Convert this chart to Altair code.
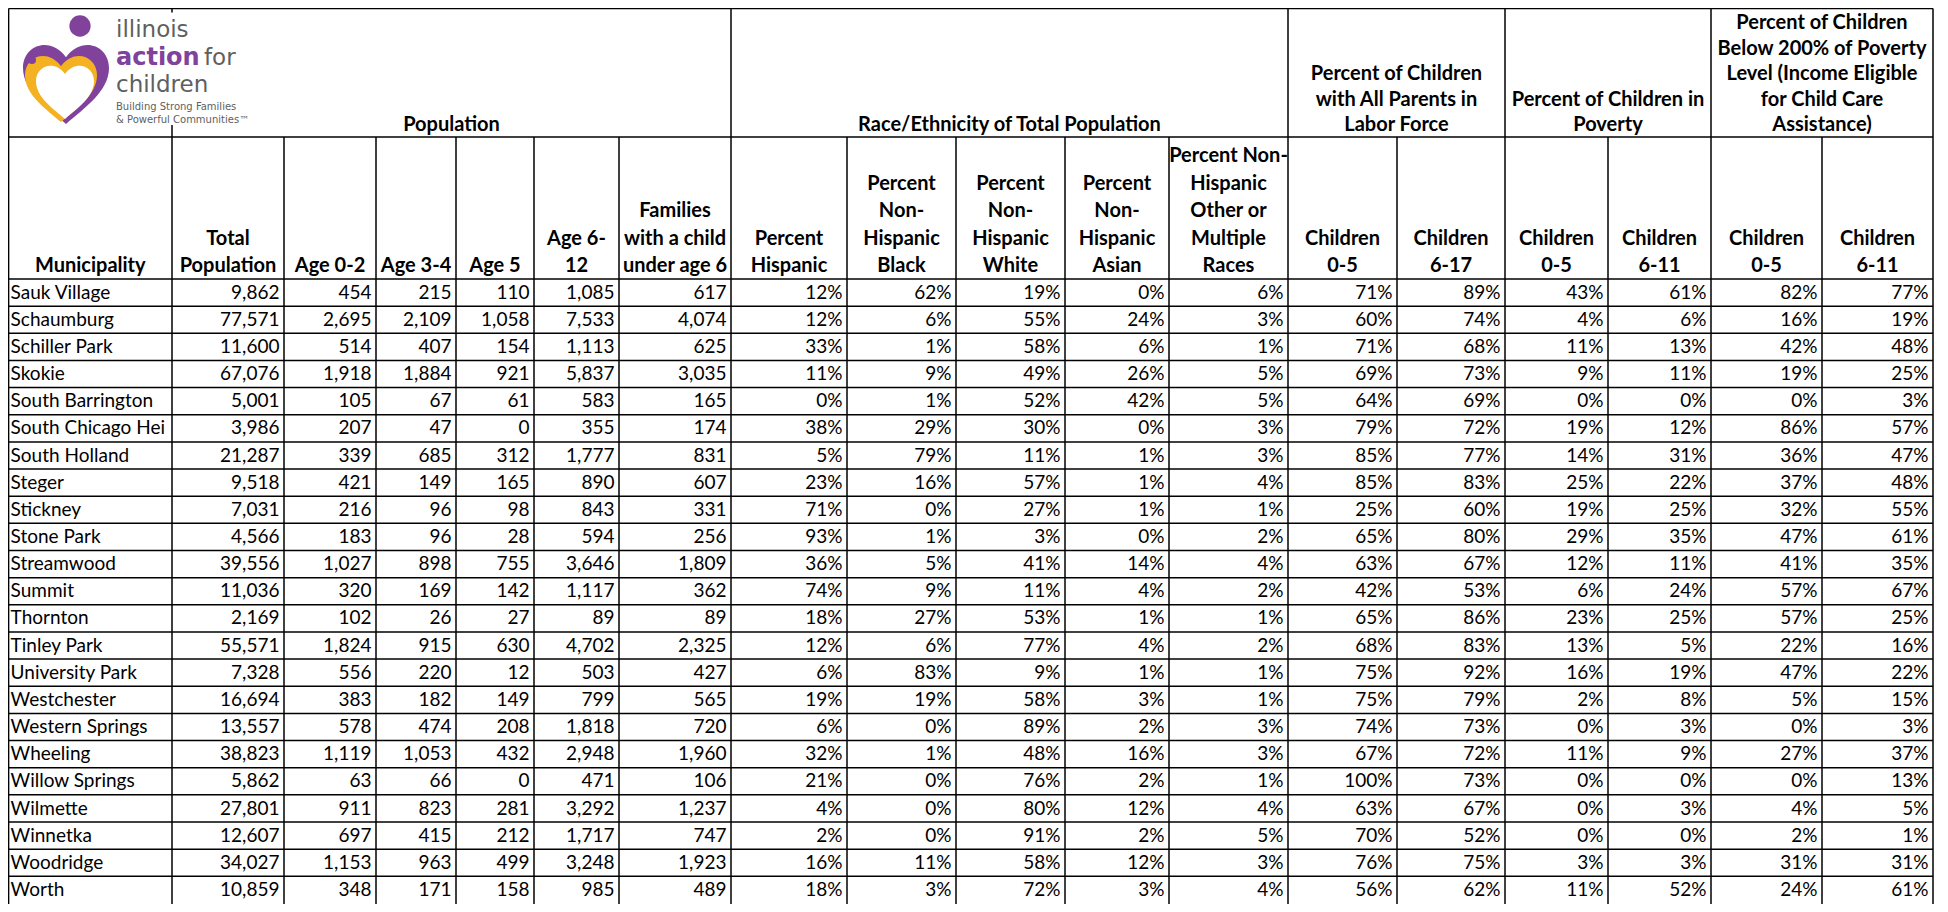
import altair as alt
import pandas as pd

# ---------------- data ----------------
municipalities = ["Sauk Village", "Schaumburg", "Schiller Park", "Skokie", "South Barrington",
                  "South Chicago Heights", "South Holland", "Steger", "Stickney", "Stone Park",
                  "Streamwood", "Summit", "Thornton", "Tinley Park", "University Park",
                  "Westchester", "Western Springs", "Wheeling", "Willow Springs", "Wilmette",
                  "Winnetka", "Woodridge", "Worth"]
total_population = [9862, 77571, 11600, 67076, 5001, 3986, 21287, 9518, 7031, 4566, 39556, 11036,
                    2169, 55571, 7328, 16694, 13557, 38823, 5862, 27801, 12607, 34027, 10859]
age_0_2 = [454, 2695, 514, 1918, 105, 207, 339, 421, 216, 183, 1027, 320, 102, 1824, 556, 383,
           578, 1119, 63, 911, 697, 1153, 348]
age_3_4 = [215, 2109, 407, 1884, 67, 47, 685, 149, 96, 96, 898, 169, 26, 915, 220, 182, 474,
           1053, 66, 823, 415, 963, 171]
age_5 = [110, 1058, 154, 921, 61, 0, 312, 165, 98, 28, 755, 142, 27, 630, 12, 149, 208, 432, 0,
         281, 212, 499, 158]
age_6_12 = [1085, 7533, 1113, 5837, 583, 355, 1777, 890, 843, 594, 3646, 1117, 89, 4702, 503,
            799, 1818, 2948, 471, 3292, 1717, 3248, 985]
families_child_under_6 = [617, 4074, 625, 3035, 165, 174, 831, 607, 331, 256, 1809, 362, 89,
                          2325, 427, 565, 720, 1960, 106, 1237, 747, 1923, 489]
pct_hispanic = [12, 12, 33, 11, 0, 38, 5, 23, 71, 93, 36, 74, 18, 12, 6, 19, 6, 32, 21, 4, 2, 16, 18]
pct_nh_black = [62, 6, 1, 9, 1, 29, 79, 16, 0, 1, 5, 9, 27, 6, 83, 19, 0, 1, 0, 0, 0, 11, 3]
pct_nh_white = [19, 55, 58, 49, 52, 30, 11, 57, 27, 3, 41, 11, 53, 77, 9, 58, 89, 48, 76, 80, 91, 58, 72]
pct_nh_asian = [0, 24, 6, 26, 42, 0, 1, 1, 1, 0, 14, 4, 1, 4, 1, 3, 2, 16, 2, 12, 2, 12, 3]
pct_nh_other = [6, 3, 1, 5, 5, 3, 3, 4, 1, 2, 4, 2, 1, 2, 1, 1, 3, 3, 1, 4, 5, 3, 4]
labor_0_5 = [71, 60, 71, 69, 64, 79, 85, 85, 25, 65, 63, 42, 65, 68, 75, 75, 74, 67, 100, 63, 70, 76, 56]
labor_6_17 = [89, 74, 68, 73, 69, 72, 77, 83, 60, 80, 67, 53, 86, 83, 92, 79, 73, 72, 73, 67, 52, 75, 62]
poverty_0_5 = [43, 4, 11, 9, 0, 19, 14, 25, 19, 29, 12, 6, 23, 13, 16, 2, 0, 11, 0, 0, 0, 3, 11]
poverty_6_11 = [61, 6, 13, 11, 0, 12, 31, 22, 25, 35, 11, 24, 25, 5, 19, 8, 3, 9, 0, 3, 0, 3, 52]
below200_0_5 = [82, 16, 42, 19, 0, 86, 36, 37, 32, 47, 41, 57, 57, 22, 47, 5, 0, 27, 0, 4, 2, 31, 24]
below200_6_11 = [77, 19, 48, 25, 3, 57, 47, 48, 55, 61, 35, 67, 25, 16, 22, 15, 3, 37, 13, 5, 1, 31, 61]

count_columns = [total_population, age_0_2, age_3_4, age_5, age_6_12, families_child_under_6]
pct_columns = [pct_hispanic, pct_nh_black, pct_nh_white, pct_nh_asian, pct_nh_other,
               labor_0_5, labor_6_17, poverty_0_5, poverty_6_11, below200_0_5, below200_6_11]

column_headers = ["Municipality", "Total\nPopulation", "Age 0-2", "Age 3-4", "Age 5", "Age 6-\n12",
                  "Families\nwith a child\nunder age 6", "Percent\nHispanic",
                  "Percent\nNon-\nHispanic\nBlack", "Percent\nNon-\nHispanic\nWhite",
                  "Percent\nNon-\nHispanic\nAsian", "Percent Non-\nHispanic\nOther or\nMultiple\nRaces",
                  "Children\n0-5", "Children\n6-17", "Children\n0-5", "Children\n6-11",
                  "Children\n0-5", "Children\n6-11"]
group_headers = ["Population", "Race/Ethnicity of Total Population",
                 "Percent of Children\nwith All Parents in\nLabor Force",
                 "Percent of Children in\nPoverty",
                 "Percent of Children\nBelow 200% of Poverty\nLevel (Income Eligible\nfor Child Care\nAssistance)"]
group_edges = [(1, 7), (7, 12), (12, 14), (14, 16), (16, 18)]

logo_big_words = ["illinois", "children"]
logo_for = "for"
logo_accent = "action"
logo_small_words = ["Building Strong Families", "& Powerful Communities\u2122"]

# ---------------- layout (page pixels) ----------------
OX, OY = 8, 8
W, H = 1926, 896
edges = [8.6, 172, 284, 376, 456, 534, 619, 731, 847, 956, 1065, 1169, 1288, 1397, 1505,
         1608, 1711, 1822, 1933]
TOP, HDR1, HDR2, ROW_H = 8.6, 137, 279, 27.15
BOTTOM = OY + H
FULL = {0, 7, 12, 14, 16, 18}
DATA_FS, HEAD_FS = 19, 20

xs = alt.Scale(domain=[0, W], nice=False, zero=False)
ys = alt.Scale(domain=[0, H], nice=False, zero=False, reverse=True)


def enc(chart, text=True):
    e = dict(x=alt.X("x:Q", scale=xs, axis=None), y=alt.Y("y:Q", scale=ys, axis=None))
    if text:
        e["text"] = alt.Text("label:N")
    return chart.encode(**e)


# grid lines
lines = []


def seg(x1, y1, x2, y2):
    lines.append({"x": x1 - OX, "y": y1 - OY, "x2": x2 - OX, "y2": y2 - OY})


seg(edges[0], TOP, edges[-1], TOP)
seg(edges[0], HDR1, edges[-1], HDR1)
seg(edges[0], HDR2, edges[-1], HDR2)
for i in range(len(municipalities) - 1):
    yb = HDR2 + (i + 1) * ROW_H
    seg(edges[0], yb, edges[-1], yb)
for k, e in enumerate(edges):
    if k in FULL:
        seg(e, TOP, e, BOTTOM)
    else:
        seg(e, HDR1, e, BOTTOM)
seg(edges[1], TOP, edges[1], TOP + 4)
seg(edges[1], HDR1 - 12, edges[1], HDR1)
lines_df = pd.DataFrame(lines)

rules = alt.Chart(lines_df).mark_rule(color="black", strokeWidth=1.5).encode(
    x=alt.X("x:Q", scale=xs, axis=None), x2="x2:Q",
    y=alt.Y("y:Q", scale=ys, axis=None), y2="y2:Q")

# data cells
names, vals = [], []
for i, name in enumerate(municipalities):
    yb = HDR2 + (i + 1) * ROW_H - 7.5 - OY
    names.append({"x": edges[0] + 2 - OX, "y": yb, "label": name})
    for c, col in enumerate(count_columns):
        vals.append({"x": edges[c + 2] - 4.5 - OX, "y": yb, "label": f"{col[i]:,}"})
    for c, col in enumerate(pct_columns):
        vals.append({"x": edges[c + 2 + len(count_columns)] - 4.5 - OX, "y": yb,
                     "label": f"{col[i]}%"})

val_layer = enc(alt.Chart(pd.DataFrame(vals)).mark_text(
    align="right", baseline="alphabetic", font="Lato", fontSize=DATA_FS, color="black"))
name_layer = enc(alt.Chart(pd.DataFrame(names)).mark_text(
    align="left", baseline="alphabetic", font="Lato", fontSize=DATA_FS, color="black",
    limit=edges[1] - edges[0] - 3, ellipsis="\u200b"))

# headers
SUB_LH, GRP_LH = 27.5, 25.5
subs = []
for c, h in enumerate(column_headers):
    n = h.count("\n")
    subs.append({"x": (edges[c] + edges[c + 1]) / 2 - OX,
                 "y": HDR2 - 7 - n * SUB_LH - OY, "label": h})
grps = []
for (a, b), h in zip(group_edges, group_headers):
    n = h.count("\n")
    grps.append({"x": (edges[a] + edges[b]) / 2 - OX,
                 "y": HDR1 - 6 - n * GRP_LH - OY, "label": h})

sub_layer = enc(alt.Chart(pd.DataFrame(subs)).mark_text(
    align="center", baseline="alphabetic", font="Lato", fontWeight="bold", fontSize=HEAD_FS,
    lineBreak="\n", lineHeight=SUB_LH, color="black"))
grp_layer = enc(alt.Chart(pd.DataFrame(grps)).mark_text(
    align="center", baseline="alphabetic", font="Lato", fontWeight="bold", fontSize=HEAD_FS,
    lineBreak="\n", lineHeight=GRP_LH, color="black"))

# logo
PURPLE, YELLOW, GRAY = "#80429a", "#f4b223", "#5e5f61"
heart = ("M0,1 C-0.4,0.65 -1,0.25 -1,-0.3 C-1,-0.85 -0.35,-1.05 0,-0.55 "
         "C0.35,-1.05 1,-0.85 1,-0.3 C1,0.25 0.4,0.65 0,1 Z")

big_df = pd.DataFrame([{"x": 116 - OX, "y": 37 - OY, "label": logo_big_words[0]},
                       {"x": 116 - OX, "y": 92 - OY, "label": logo_big_words[1]},
                       {"x": 204 - OX, "y": 65 - OY, "label": logo_for}])
small_df = pd.DataFrame([{"x": 116 - OX, "y": 110 - OY, "label": logo_small_words[0]},
                         {"x": 116 - OX, "y": 123 - OY, "label": logo_small_words[1]}])
acc_df = pd.DataFrame([{"x": 116 - OX, "y": 65 - OY, "label": logo_accent}])

logo_big = enc(alt.Chart(big_df).mark_text(align="left", baseline="alphabetic",
                                           font="DejaVu Sans", fontSize=23, color=GRAY))
logo_small = enc(alt.Chart(small_df).mark_text(align="left", baseline="alphabetic",
                                               font="DejaVu Sans", fontSize=10, color=GRAY))
logo_acc = enc(alt.Chart(acc_df).mark_text(align="left", baseline="alphabetic",
                                           font="DejaVu Sans", fontSize=24, fontWeight="bold",
                                           color=PURPLE))


def symbol(px, py, shape, size, color):
    df = pd.DataFrame([{"x": px - OX, "y": py - OY}])
    return enc(alt.Chart(df).mark_point(filled=True, opacity=1, strokeWidth=0, shape=shape,
                                        size=size, color=color), text=False)


logo_shapes = [
    symbol(66, 81, heart, 86 ** 2, PURPLE),
    symbol(61, 86, heart, 72 ** 2, YELLOW),
    symbol(65, 90, heart, 58 ** 2, "white"),
    symbol(80, 26, "circle", 452, PURPLE),
    symbol(32, 60, "circle", 64, PURPLE),
    symbol(55, 67, "star", 110, YELLOW),
]

chart = alt.layer(
    rules, val_layer, sub_layer, grp_layer, name_layer, logo_big, logo_small, logo_acc, *logo_shapes
).properties(width=W, height=H, padding=0, autosize="none", background="white"
).configure_view(stroke=None)

chart.save("out.html", embed_options={"renderer": "svg", "actions": False})
